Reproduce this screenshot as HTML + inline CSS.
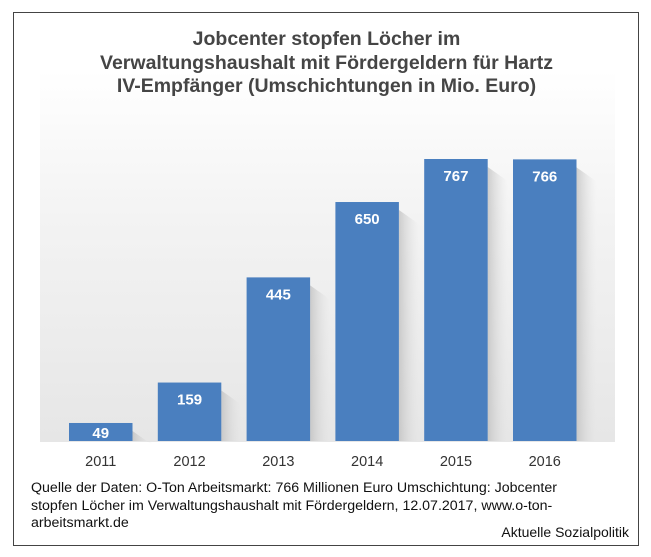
<!DOCTYPE html>
<html><head><meta charset="utf-8"><style>
body{margin:0;width:651px;height:557px;background:#fff;font-family:"Liberation Sans",sans-serif;position:relative;overflow:hidden}
#frame{position:absolute;left:13px;top:12px;width:624px;height:532px;border:1.5px solid #444;background:#fff}
#bg{position:absolute;left:40px;top:70px;width:575px;height:372px;background:linear-gradient(to bottom,#fff 0%,#f3f3f3 40%,#e6e6e6 100%)}
#title{position:absolute;left:13px;width:627px;top:28px;text-align:center;font-weight:bold;font-size:19.5px;line-height:23.5px;color:#454545}
.src{position:absolute;left:31px;top:480px;font-size:14.2px;line-height:17.5px;color:#111;width:610px;white-space:nowrap}
#credit{position:absolute;right:22px;top:524px;font-size:14px;color:#111}
</style></head><body>
<div id="frame"></div>
<div id="bg"></div>
<div id="title">Jobcenter stopfen Löcher im<br>Verwaltungshaushalt mit Fördergeldern für Hartz<br>IV-Empfänger (Umschichtungen in Mio. Euro)</div>
<svg id="chart" width="651" height="557" style="position:absolute;left:0;top:0">
<defs><linearGradient id="sh" x1="0" x2="1"><stop offset="0" stop-color="#bbb" stop-opacity=".7"/><stop offset="1" stop-color="#ddd" stop-opacity="0"/></linearGradient></defs>
</svg>
<div class="src">Quelle der Daten: O-Ton Arbeitsmarkt: 766 Millionen Euro Umschichtung: Jobcenter<br>stopfen Löcher im Verwaltungshaushalt mit Fördergeldern, 12.07.2017, www.o-ton-<br>arbeitsmarkt.de</div>
<div id="credit">Aktuelle Sozialpolitik</div>
<script>
const categories=["2011","2012","2013","2014","2015","2016"];
const values=[49,159,445,650,767,766];
const labels=["49","159","445","650","767","766"];
const svg=document.getElementById('chart');
const NS='http://www.w3.org/2000/svg';
const base=441, scale=282/767, x0=69, step=88.8, bw=63.5;
function xPos(i){return x0+i*step;}
function yPos(v){return base-v*scale;}
values.forEach((v,i)=>{
  const x=xPos(i),y=yPos(v);
  const s=document.createElementNS(NS,'polygon');
  s.setAttribute('points',`${x+bw},${y+8} ${x+bw+20},${y+22} ${x+bw+20},${base} ${x+bw},${base}`);
  s.setAttribute('fill','url(#sh)');
  
  
  svg.appendChild(s);
  const r=document.createElementNS(NS,'rect');
  r.setAttribute('x',x);r.setAttribute('y',y);r.setAttribute('width',bw);r.setAttribute('height',base-y);
  r.setAttribute('fill','#4a7fbf');
  
  
  svg.appendChild(r);
  const t=document.createElementNS(NS,'text');
  t.setAttribute('x',x+bw/2);t.setAttribute('y',Math.min(y+22,base-3));t.setAttribute('text-anchor','middle');
  t.setAttribute('font-size','15');t.setAttribute('font-weight','bold');t.setAttribute('fill','#fff');
  t.setAttribute('font-family','Liberation Sans, sans-serif');
  t.textContent=labels[i];
  
  
  svg.appendChild(t);
  const c=document.createElementNS(NS,'text');
  c.setAttribute('x',x+bw/2);c.setAttribute('y',466);c.setAttribute('text-anchor','middle');
  c.setAttribute('font-size','14.5');c.setAttribute('fill','#333');
  c.setAttribute('font-family','Liberation Sans, sans-serif');
  c.textContent=categories[i];
  
  
  svg.appendChild(c);
});
</script>
</body></html>
